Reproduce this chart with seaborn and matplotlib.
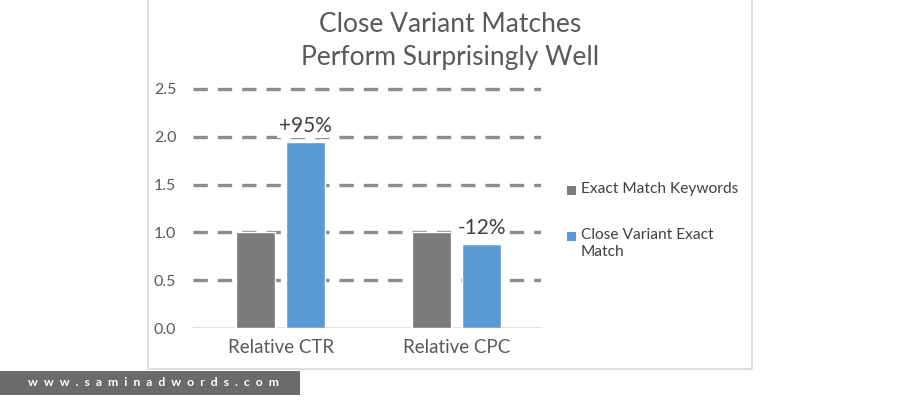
import matplotlib
matplotlib.use("Agg")
import matplotlib.pyplot as plt
from matplotlib.patches import Rectangle
import seaborn as sns
import pandas as pd

categories = ["Relative CTR", "Relative CPC"]
series_names = ["Exact Match Keywords", "Close Variant Exact Match"]
exact_values = [1.0, 1.0]
close_values = [1.95, 0.88]
bar_labels = ["+95%", "-12%"]
y_ticks = [0.0, 0.5, 1.0, 1.5, 2.0, 2.5]

df = pd.DataFrame({
    "category": categories * 2,
    "series": [series_names[0]] * 2 + [series_names[1]] * 2,
    "value": exact_values + close_values,
})

sns.set_theme(style="white")
plt.rcParams["font.family"] = ["Lato", "DejaVu Sans"]

W, H = 901, 400
fig = plt.figure(figsize=(W / 100, H / 100), dpi=100)
fig.patch.set_facecolor("white")

def fx(px):
    return px / W

def fy(py):
    return 1 - py / H

# chart frame
fig.patches.append(Rectangle((fx(148), fy(369)), fx(752) - fx(148), fy(-5) - fy(369),
                             transform=fig.transFigure, facecolor="none",
                             edgecolor="#d9d9d9", linewidth=1.2, zorder=-1))

ax_left, ax_right = 193, 541
y0_px, y25_px = 328, 89
ymax = 2.56
top_px = y0_px - (y0_px - y25_px) * ymax / 2.5
ax = fig.add_axes([fx(ax_left), fy(y0_px), fx(ax_right) - fx(ax_left), fy(top_px) - fy(y0_px)])
ax.set_facecolor("none")

colors = {series_names[0]: "#7b7b7b", series_names[1]: "#5b9bd5"}
sns.barplot(data=df, x="category", y="value", hue="series", order=categories,
            hue_order=series_names, palette=colors, width=0.57, gap=0.22,
            saturation=1, legend=False, ax=ax, zorder=3)

ax.set_xlim(-0.5, 1.48)
ax.set_ylim(0, ymax)
ax.set_yticks(y_ticks)
ax.set_yticklabels([f"{t:.1f}" for t in y_ticks])
ax.set_xlabel("")
ax.set_ylabel("")
for t in y_ticks[1:]:
    ax.axhline(t, color="#8c8c8c", linewidth=2.4, linestyle=(0, (4.3, 3.0)), zorder=1)
ax.axhline(0, color="#d9d9d9", linewidth=1.2, zorder=2)
for s in ax.spines.values():
    s.set_visible(False)
ax.tick_params(axis="y", length=0, labelsize=11.5, labelcolor="#595959", pad=12)
ax.tick_params(axis="x", length=0, labelsize=13.5, labelcolor="#595959", pad=8)

# bar annotations above the close-variant bars
for bar, lab in zip(ax.containers[1], bar_labels):
    ax.annotate(lab, (bar.get_x() + bar.get_width() / 2, bar.get_height()),
                xytext=(0, 4), textcoords="offset points", ha="center", va="bottom",
                fontsize=15, color="#404040", zorder=4,
                bbox=dict(boxstyle="square,pad=0.1", facecolor="white", edgecolor="none"))

# title
fig.text(fx(450), fy(25), "Close Variant Matches", ha="center", va="center",
         fontsize=19, color="#595959")
fig.text(fx(450), fy(57), "Perform Surprisingly Well", ha="center", va="center",
         fontsize=19, color="#595959")

# legend
leg_items = [(series_names[0], 190), ("Close Variant Exact\nMatch", 236)]
for (name, ypx), col in zip(leg_items, colors.values()):
    fig.patches.append(Rectangle((fx(567), fy(ypx + 5)), fx(9), 9 / H,
                                 transform=fig.transFigure, facecolor=col, edgecolor="none"))
    fig.text(fx(581), fy(ypx - 8), name, ha="left", va="top", fontsize=11.2,
             color="#404040", linespacing=1.3)

# watermark band
fig.patches.append(Rectangle((0, fy(395)), fx(300), fy(371) - fy(395),
                             transform=fig.transFigure, facecolor="#6b6b6b",
                             edgecolor="none"))
fig.text(fx(153), fy(383), "  ".join("www.saminadwords.com"), ha="center", va="center",
         fontsize=8.8, color="white", fontweight="bold")

fig.savefig("out.png", dpi=100)
